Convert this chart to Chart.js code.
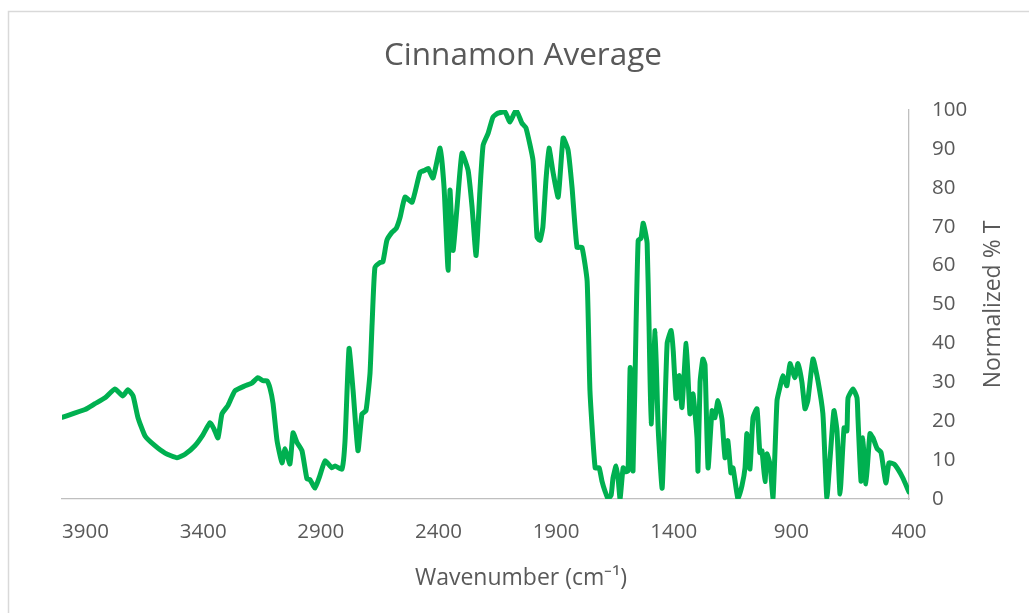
<!DOCTYPE html>
<html>
<head>
<meta charset="utf-8">
<script src="https://cdn.jsdelivr.net/npm/chart.js@4.4.0/dist/chart.umd.min.js"></script>
<style>
  html, body { margin: 0; padding: 0; background: #ffffff; }
  canvas { display: block; }
</style>
</head>
<body>
<canvas id="ftir" width="1029" height="613"></canvas>
<script>
const chartTitle = 'Cinnamon Average';
const xAxisTitle = 'Wavenumber (cm\u207B\u00B9)';
const yAxisTitle = 'Normalized % T';

const xTickValues = [400, 900, 1400, 1900, 2400, 2900, 3400, 3900];

const waveNumbers = [
    4000, 3902, 3860, 3817, 3775, 3741, 3720, 3698, 3677, 3647,
    3605, 3562, 3511, 3477, 3435, 3401, 3371, 3354, 3337, 3320,
    3295, 3265, 3222, 3193, 3167, 3146, 3129, 3116, 3103, 3086,
    3065, 3052, 3031, 3018, 3001, 2980, 2959, 2946, 2925, 2904,
    2882, 2853, 2840, 2810, 2797, 2780, 2763, 2742, 2725, 2708,
    2691, 2682, 2670, 2648, 2636, 2619, 2597, 2580, 2563, 2542,
    2512, 2478, 2457, 2444, 2423, 2393, 2376, 2359, 2351, 2338,
    2321, 2300, 2274, 2257, 2240, 2223, 2210, 2189, 2168, 2147,
    2117, 2096, 2070, 2045, 2028, 1998, 1981, 1968, 1956, 1943,
    1930, 1913, 1891, 1870, 1849, 1832, 1811, 1790, 1768, 1756,
    1734, 1717, 1705, 1692, 1679, 1666, 1658, 1645, 1636, 1628,
    1615, 1602, 1594, 1585, 1573, 1560, 1551, 1539, 1530, 1522,
    1513, 1505, 1496, 1479, 1466, 1449, 1428, 1411, 1402, 1390,
    1377, 1365, 1347, 1331, 1318, 1301, 1297, 1288, 1276, 1267,
    1254, 1237, 1225, 1212, 1195, 1182, 1170, 1157, 1148, 1127,
    1110, 1097, 1089, 1076, 1063, 1046, 1034, 1025, 1012, 1004,
    991, 978, 961, 949, 936, 919, 906, 885, 872, 855,
    842, 830, 808, 787, 766, 757, 749, 736, 719, 706,
    693, 676, 664, 659, 638, 621, 617, 604, 596, 583,
    566, 553, 536, 519, 511, 498, 485, 464, 447, 426,
    400
];

// normalized %T at each wavenumber
const transmittance = [
    21, 23, 24.5, 26, 28.3, 26.5, 28.1, 26.5, 20.9, 16.2,
    13.7, 11.8, 10.6, 11.5, 13.7, 16.5, 19.6, 18, 15.7, 21.9,
    24, 27.8, 29.1, 29.8, 31.2, 30.4, 30.4, 28.5, 24.5, 15,
    9.3, 12.9, 9, 17, 14.5, 12.4, 5.2, 5, 2.8, 6,
    9.8, 8, 8.5, 7.7, 15, 38.7, 28, 12.4, 21.9, 22.7,
    32.2, 45, 59.5, 60.8, 61, 66.5, 68.6, 69.5, 72.4, 77.6,
    76.3, 84, 84.5, 85, 82.5, 90.2, 80, 58.8, 79.4, 63.9,
    75, 88.9, 84.5, 75, 62.6, 80, 91, 94, 98.2, 99.2,
    99.5, 96.9, 100, 96.6, 95.4, 87, 67.3, 66.5, 70, 82,
    90.2, 84, 77.6, 92.8, 89.7, 80, 64.7, 64.7, 56, 27.8,
    8, 8, 4.6, 2, 0, 1, 5.4, 8.5, 5, 0,
    8, 7, 7.2, 33.8, 7.2, 45, 66.5, 67, 70.9, 69,
    65.7, 45, 19.3, 43.3, 18, 2.8, 40, 43.3, 38, 25.8,
    31.7, 23.5, 40, 21.9, 27, 15.7, 7.2, 30, 36, 34.5,
    8, 22.7, 20.9, 25.3, 20.5, 10.6, 15, 6.7, 8, 0,
    3.4, 8, 16.8, 7.7, 20.9, 23.2, 11.9, 12.4, 4.5, 11.6,
    9, 0.3, 25.3, 28.6, 31.7, 29.1, 34.8, 31.2, 34.8, 30,
    23.2, 25.3, 36, 30.4, 21.9, 10, 0.3, 10, 22.7, 17.5,
    1.3, 18.3, 17.5, 26, 28.3, 26, 20.9, 4.6, 15.7, 3.9,
    16.8, 15.7, 13, 12, 9, 4.1, 9.3, 9, 7.7, 5.4,
    1.8
];

const textColor = '#595959';
const axisColor = '#bfbfbf';
const fontFamily = '"Open Sans", "Liberation Sans", sans-serif';

const points = waveNumbers.map((w, i) => ({ x: w, y: transmittance[i] }));

// titles + chart frame, placed like the excel original
const decor = {
    id: 'decor',
    beforeDraw(chart) {
        const ctx = chart.ctx;
        ctx.save();
        ctx.strokeStyle = '#d9d9d9';
        ctx.lineWidth = 1.5;
        ctx.strokeRect(8.5, 11.5, 1100, 700);
        ctx.restore();
    },
    afterDraw(chart) {
        const ctx = chart.ctx;
        const area = chart.chartArea;
        ctx.save();
        ctx.fillStyle = textColor;
        ctx.textAlign = 'center';
        ctx.textBaseline = 'middle';

        ctx.font = '31.5px ' + fontFamily;
        ctx.fillText(chartTitle, 523, 56);

        ctx.font = '23px ' + fontFamily;
        ctx.fillText(xAxisTitle, 521, 578);

        ctx.translate(993, (area.top + area.bottom) / 2);
        ctx.rotate(-Math.PI / 2);
        ctx.fillText(yAxisTitle, 0, 0);
        ctx.restore();
    }
};

const ctx = document.getElementById('ftir').getContext('2d');
const chart = new Chart(ctx, {
    type: 'line',
    data: {
        datasets: [{
            label: chartTitle,
            data: points,
            borderColor: '#00b050',
            backgroundColor: '#00b050',
            borderWidth: 5,
            pointRadius: 0,
            tension: 0.15,
            borderJoinStyle: 'round',
            borderCapStyle: 'round',
            fill: false
        }]
    },
    options: {
        responsive: false,
        animation: false,
        layout: {
            padding: { left: 62, top: 110, right: 0, bottom: 0 }
        },
        scales: {
            x: {
                type: 'linear',
                reverse: true,
                min: 400,
                max: 4000,
                afterBuildTicks: function(scale) {
                    scale.ticks = xTickValues.map(v => ({ value: v }));
                },
                afterFit: function(scale) {
                    scale.height = 114;
                },
                grid: { display: false, drawTicks: false },
                border: { display: true, color: axisColor, width: 1.3 },
                ticks: {
                    color: textColor,
                    padding: 21,
                    maxRotation: 0,
                    autoSkip: false,
                    font: { family: fontFamily, size: 20.5 },
                    callback: function(value) {
                        return String(value);
                    }
                }
            },
            y: {
                position: 'right',
                min: 0,
                max: 100,
                afterFit: function(scale) {
                    scale.width = 120;
                },
                grid: { display: false, drawTicks: false },
                border: { display: true, color: axisColor, width: 1.3 },
                ticks: {
                    stepSize: 10,
                    color: textColor,
                    padding: 23,
                    font: { family: fontFamily, size: 20.5 }
                }
            }
        },
        plugins: {
            legend: { display: false },
            title: { display: false },
            tooltip: { enabled: false }
        }
    },
    plugins: [decor]
});
</script>
</body>
</html>
